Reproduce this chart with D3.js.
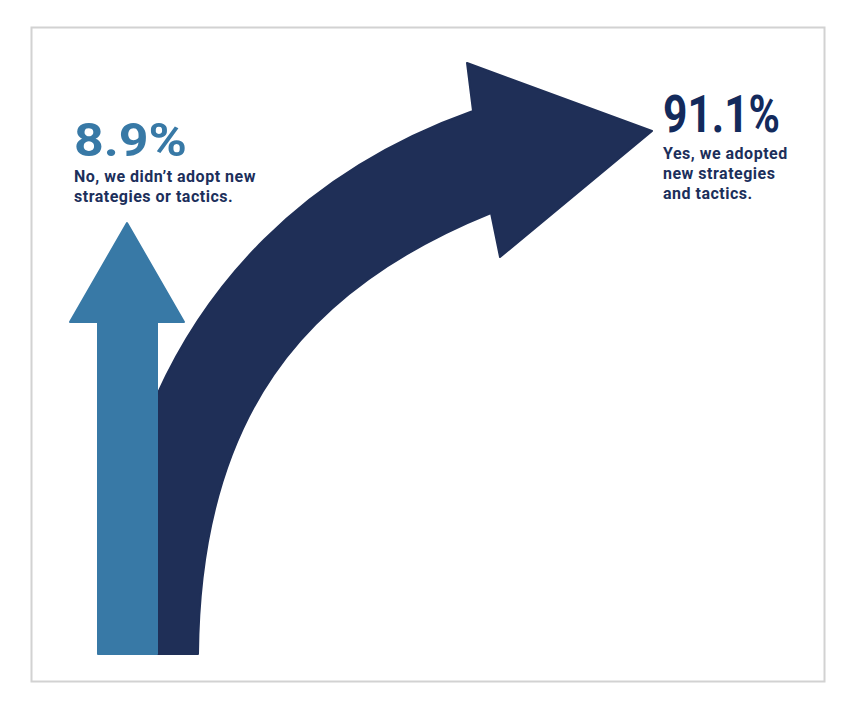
<!DOCTYPE html>
<html>
<head>
<meta charset="utf-8">
<script src="https://cdn.jsdelivr.net/npm/d3@7"></script>
<style>
  body { margin: 0; background: #fff; }
  svg { display: block; }
  text { font-family: Roboto, "Noto Sans", sans-serif; }
</style>
</head>
<body>
<svg width="856" height="701"></svg>
<script>
var answers = ["No", "Yes"];
var shares = [8.9, 91.1];
var captions = [
    ["No, we didn\u2019t adopt new", "strategies or tactics."],
    ["Yes, we adopted", "new strategies", "and tactics."]
];
var colors = ["#3879a6", "#1f2f57"];
var textColor = "#1c2f5b";

var svg = d3.select("svg");

// frame
svg.append("rect")
    .attr("x", 31.5).attr("y", 27.5)
    .attr("width", 793).attr("height", 654)
    .attr("fill", "none")
    .attr("stroke", "#d2d2d2")
    .attr("stroke-width", 2);

// big curved arrow (yes)
var p = d3.path();
p.moveTo(157, 654);
p.lineTo(157, 395);
p.bezierCurveTo(202, 295, 293, 175, 473, 111);
p.lineTo(467, 63);
p.lineTo(652, 131);
p.lineTo(500, 257);
p.lineTo(491, 213);
p.bezierCurveTo(300, 290, 200, 420, 198, 654);
p.closePath();

svg.append("path")
    .attr("d", p.toString())
    .attr("fill", colors[1])
    .attr("stroke", colors[1])
    .attr("stroke-width", 2)
    .attr("stroke-linejoin", "round");

// straight arrow (no)
var q = d3.path();
q.moveTo(98, 654);
q.lineTo(98, 322);
q.lineTo(70, 322);
q.lineTo(127, 223);
q.lineTo(184, 322);
q.lineTo(157, 322);
q.lineTo(157, 654);
q.closePath();

svg.append("path")
    .attr("d", q.toString())
    .attr("fill", colors[0])
    .attr("stroke", colors[0])
    .attr("stroke-width", 2)
    .attr("stroke-linejoin", "round");

// labels
var labelPos = [
    { x: 74, y: 156, w: 113, size: 47, lineY: 182, pctColor: colors[0] },
    { x: 663, y: 132, w: 117, size: 52, lineY: 159, pctColor: "#132a5c" }
];

answers.forEach(function (a, i) {
    var g = svg.append("g").attr("class", "label-" + a.toLowerCase());
    g.append("text")
        .attr("x", labelPos[i].x)
        .attr("y", labelPos[i].y)
        .attr("fill", labelPos[i].pctColor)
        .attr("font-size", labelPos[i].size)
        .attr("font-weight", 700)
        .attr("textLength", labelPos[i].w)
        .attr("lengthAdjust", "spacingAndGlyphs")
        .text(d3.format(".1f")(shares[i]) + "%");
    g.selectAll("text.cap")
        .data(captions[i])
        .enter().append("text")
        .attr("class", "cap")
        .attr("x", labelPos[i].x)
        .attr("y", function (d, j) { return labelPos[i].lineY + j * 20; })
        .attr("fill", textColor)
        .attr("font-size", 16)
        .attr("font-weight", 700)
        .attr("letter-spacing", "0.5")
        .text(function (d) { return d; });
});
</script>
</body>
</html>
